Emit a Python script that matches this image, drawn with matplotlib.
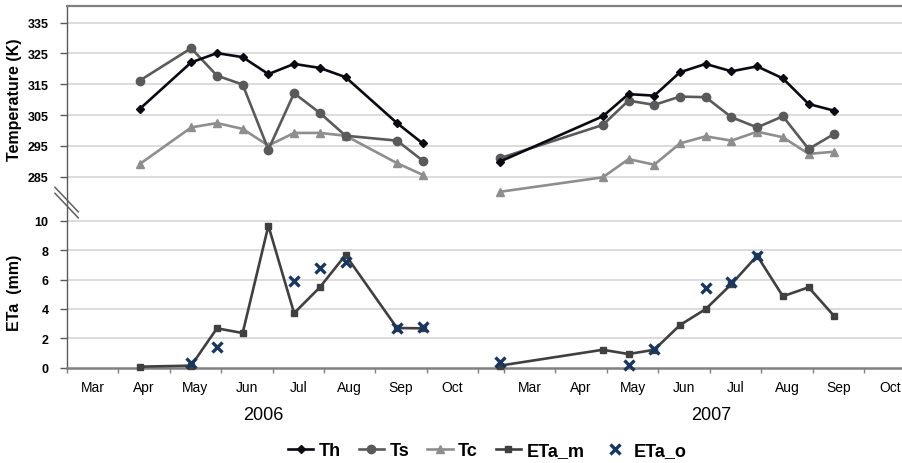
import numpy as np
import matplotlib
matplotlib.use("Agg")
import matplotlib.pyplot as plt
from matplotlib.lines import Line2D
from matplotlib.transforms import blended_transform_factory

plt.rcParams['font.family'] = ['Liberation Sans', 'DejaVu Sans']

# Position of each acquisition on the month axis (one slot per month)
x_2006 = [1.42, 2.42, 2.92, 3.42, 3.92, 4.42, 4.92, 5.42, 6.42, 6.92]
x_2007 = [8.42, 10.42, 10.92, 11.42, 11.92, 12.42, 12.92, 13.42, 13.92, 14.42, 14.92]

# Temperatures (K)
th_2006 = [307.0, 322.1, 325.1, 323.8, 318.3, 321.6, 320.3, 317.3, 302.4, 295.8]
ts_2006 = [316.2, 326.7, 317.8, 314.9, 293.8, 312.1, 305.7, 298.3, 296.7, 290.2]
tc_2006 = [289.1, 301.0, 302.4, 300.5, 295.1, 299.2, 299.2, 298.3, 289.4, 285.6]
th_2007 = [289.9, 304.6, 311.8, 311.3, 318.9, 321.6, 319.2, 320.8, 316.9, 308.6, 306.4]
ts_2007 = [291.0, 301.8, 309.7, 308.3, 311.0, 310.8, 304.3, 301.0, 304.6, 294.0, 298.9]
tc_2007 = [280.1, 284.8, 290.7, 288.9, 295.8, 298.1, 296.7, 299.6, 297.8, 292.4, 293.1]

# Actual evapotranspiration (mm): modelled and observed
nan = np.nan
eta_m_2006 = [0.07, 0.14, 2.68, 2.36, 9.66, 3.71, 5.47, 7.67, 2.70, 2.68]
eta_o_2006 = [nan, 0.32, 1.39, nan, nan, 5.90, 6.76, 7.21, 2.68, 2.75]
eta_m_2007 = [0.14, 1.22, 0.93, 1.22, 2.90, 3.99, 5.69, 7.62, 4.86, 5.47, 3.50]
eta_o_2007 = [0.41, nan, 0.20, 1.27, nan, 5.40, 5.81, 7.58, nan, nan, nan]

months = ['Mar', 'Apr', 'May', 'Jun', 'Jul', 'Aug', 'Sep', 'Oct']
years = ['2006', '2007']
month_pos_2006 = [0.5, 1.5, 2.5, 3.5, 4.5, 5.5, 6.5, 7.5]
month_pos_2007 = [9, 10, 11, 12, 13, 14, 15, 16]
tick_pos = [0, 1, 2, 3, 4, 5, 6, 7, 8, 8.5, 9.5, 10.5, 11.5, 12.5, 13.5, 14.5, 15.5]
year_pos = [3.83, 12.52]

temp_ticks = [285, 295, 305, 315, 325, 335]
eta_ticks = [0, 2, 4, 6, 8, 10]

W, H = 902, 464
fig = plt.figure(figsize=(W / 100, H / 100), dpi=100)
left = 66.7 / W
width = 1 - left
split = 200.0
ax_t = fig.add_axes([left, 1 - split / H, width, (split - 7.3) / H])
ax_e = fig.add_axes([left, 1 - 368.7 / H, width, (368.7 - split) / H], sharex=ax_t)

C_TH, C_TS, C_TC = '#0a0a12', '#5a5a5a', '#8e8e8e'
C_EM, C_EO = '#404040', '#17375e'
lw = 1.9

for xs, th, ts, tc, first in [(x_2006, th_2006, ts_2006, tc_2006, True),
                              (x_2007, th_2007, ts_2007, tc_2007, False)]:
    ax_t.plot(xs, tc, color=C_TC, lw=lw, marker='^', ms=6, label='Tc' if first else None, zorder=3)
    ax_t.plot(xs, ts, color=C_TS, lw=lw, marker='o', ms=6, label='Ts' if first else None, zorder=4)
    ax_t.plot(xs, th, color=C_TH, lw=lw, marker='D', ms=4.2, label='Th' if first else None, zorder=5)

for xs, em, eo, first in [(x_2006, eta_m_2006, eta_o_2006, True),
                          (x_2007, eta_m_2007, eta_o_2007, False)]:
    ax_e.plot(xs, em, color=C_EM, lw=lw, marker='s', ms=5, label='ETa_m' if first else None,
              zorder=4, clip_on=False)
    ax_e.plot(xs, eo, ls='none', color=C_EO, marker='x', ms=6.5, mew=2.4,
              label='ETa_o' if first else None, zorder=5, clip_on=False)

xmax = (W - 66.7) / 51.45
ax_t.set_xlim(0, xmax)
ax_t.set_ylim(277.76, 340.3)
ax_e.set_ylim(0, 11.48)

grid_c = '#d9d9d9'
for ax, ticks in [(ax_t, temp_ticks), (ax_e, eta_ticks)]:
    ax.set_yticks(ticks)
    ax.set_yticklabels([str(t) for t in ticks], fontweight='bold', fontsize=9)
    ax.tick_params(axis='y', direction='out', length=5, width=1, color='#595959', pad=8)
    ax.yaxis.grid(True, color=grid_c, lw=1.3)
    ax.set_axisbelow(True)
    ax.spines['right'].set_visible(False)
    ax.spines['left'].set_color('#595959')
    ax.spines['left'].set_linewidth(1.0)

ax_t.spines['bottom'].set_visible(False)
ax_t.spines['top'].set_color('#808080')
ax_t.spines['top'].set_linewidth(1.6)
ax_t.tick_params(axis='x', bottom=False, labelbottom=False)
ax_e.spines['top'].set_visible(False)
ax_e.spines['bottom'].set_color('#808080')
ax_e.spines['bottom'].set_linewidth(1.8)
ax_e.yaxis.get_gridlines()[0].set_visible(False)

ax_e.set_xticks(tick_pos)
ax_e.set_xticklabels([])
ax_e.tick_params(axis='x', which='major', direction='out', length=3.5, width=1, color='#808080')
ax_e.set_xticks(month_pos_2006 + month_pos_2007, minor=True)
ax_e.set_xticklabels(months + months, minor=True, fontsize=10)
ax_e.tick_params(axis='x', which='minor', length=0, pad=9)

ax_t.set_ylabel('Temperature (K)', fontweight='bold', fontsize=11.5)
ax_e.set_ylabel('ETa  (mm)', fontweight='bold', fontsize=11.5)
ax_t.yaxis.set_label_coords(-0.0535, 0.519)
ax_e.yaxis.set_label_coords(-0.0535, 0.449)

tr = blended_transform_factory(ax_e.transData, ax_e.transAxes)
for xp, yr in zip(year_pos, years):
    ax_e.text(xp, -0.275, yr, transform=tr, ha='center', va='center', fontsize=13)

# axis break marks on the left spine
for y0 in (188.3, 194.3):
    fig.add_artist(Line2D([55 / W, 78.3 / W], [1 - y0 / H, 1 - (y0 + 24.6) / H],
                          transform=fig.transFigure, color='#606060', lw=1.1))

handles = []
labels = []
for ax in (ax_t, ax_e):
    h, l = ax.get_legend_handles_labels()
    handles += h
    labels += l
order = ['Th', 'Ts', 'Tc', 'ETa_m', 'ETa_o']
hmap = dict(zip(labels, handles))
leg = fig.legend([hmap[k] for k in order], order, loc='center', bbox_to_anchor=(0.54, 0.026),
                 ncol=5, frameon=False, handlelength=1.4, columnspacing=1.0, handletextpad=0.3,
                 prop={'weight': 'bold', 'size': 13})

fig.savefig('out.png', dpi=100)
